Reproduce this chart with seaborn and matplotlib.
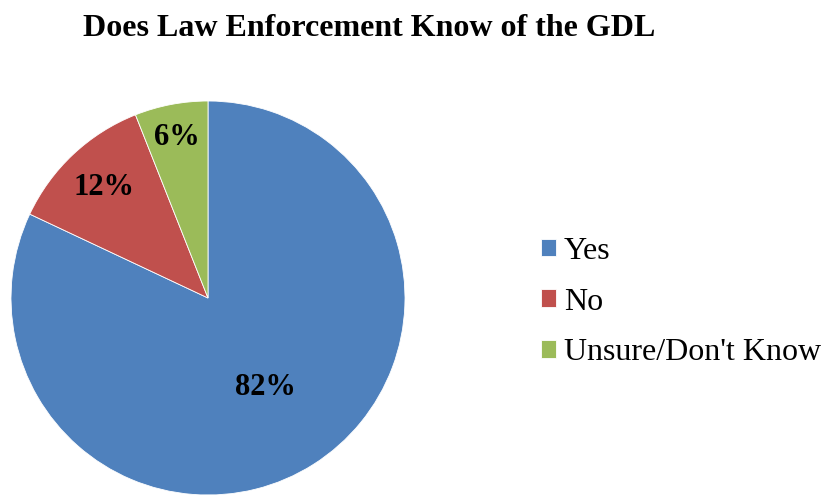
import numpy as np
from matplotlib import pyplot as plt
import seaborn as sns

labels = ["Yes", "No", "Unsure/Don't Know"]
shares = [82, 12, 6]
pct_labels = ["82%", "12%", "6%"]
label_radius = [0.54, 0.77, 0.83]
colors = sns.color_palette(["#4F81BD", "#C0504D", "#9BBB59"])

sns.set_style("white")
plt.rcParams['font.family'] = ['Liberation Serif', 'DejaVu Serif']
plt.rcParams['text.color'] = 'black'

fig = plt.figure(figsize=(8.24, 4.96), dpi=100)
# pie axes placed in pixel terms: centre (208, 298), radius 197
ax = fig.add_axes([11 / 824, 1 / 496, 394 / 824, 394 / 496])
wedges, _ = ax.pie(shares, colors=colors, startangle=90, counterclock=False,
                   radius=1, wedgeprops=dict(edgecolor="white", linewidth=0.6))
ax.set_xlim(-1, 1)
ax.set_ylim(-1, 1)
ax.axis("off")

# percentage labels at each wedge's mid angle
for w, txt, r in zip(wedges, pct_labels, label_radius):
    mid = np.deg2rad((w.theta1 + w.theta2) / 2)
    ax.text(r * np.cos(mid), r * np.sin(mid), txt, ha="center", va="center",
            fontsize=22, fontweight="bold", color="black")

fig.text(369 / 824, 1 - 28 / 496, "Does Law Enforcement Know of the GDL",
         ha="center", va="center", fontsize=23, fontweight="bold", color="black")

fig.legend(wedges, labels, loc="center left", bbox_to_anchor=(525 / 824, 1 - 302 / 496),
           frameon=False, fontsize=23, handlelength=0.47, handleheight=0.47,
           handletextpad=0.25, labelspacing=0.68, borderpad=0, labelcolor="black")

plt.savefig("out.png", dpi=100)
